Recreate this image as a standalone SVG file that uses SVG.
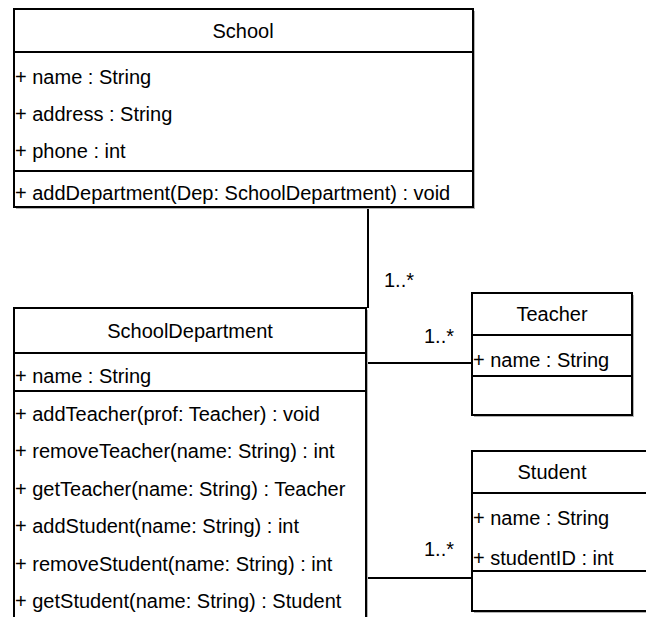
<svg xmlns="http://www.w3.org/2000/svg" width="646" height="617" viewBox="0 0 646 617">
<style>
text{font-family:"Liberation Sans",Arial,Helvetica,sans-serif;font-size:20px;fill:#000}
.c{text-anchor:middle}
.box{fill:#fff;stroke:#000;stroke-width:2}
.sh{fill:#b3b3b3;stroke:none}
.ln{stroke:#000;stroke-width:2;fill:none}
</style>
<rect width="646" height="617" fill="#fff"/>
<g id="connectors">
<path class="ln" d="M368,207 V308"/>
<path class="ln" d="M366,363 H472"/>
<path class="ln" d="M366,578 H472"/>
<text x="384" y="287">1..*</text>
<text x="424" y="343">1..*</text>
<text x="424" y="556">1..*</text>
</g>
<g id="School">
<rect class="sh" x="16" y="11" width="459" height="198"/>
<rect class="box" x="14" y="9" width="459" height="198"/>
<path class="ln" d="M14,52 H473 M14,171 H473"/>
<text class="c" x="243" y="38">School</text>
<text x="15" y="84">+ name : String</text>
<text x="15" y="121">+ address : String</text>
<text x="15" y="158">+ phone : int</text>
<text x="15" y="200">+ addDepartment(Dep: SchoolDepartment) : void</text>
</g>
<g id="SchoolDepartment">
<rect class="sh" x="16" y="310" width="352" height="400"/>
<rect class="box" x="14" y="308" width="352" height="400"/>
<path class="ln" d="M14,353 H366 M14,391 H366"/>
<text class="c" x="190" y="338">SchoolDepartment</text>
<text x="15" y="383">+ name : String</text>
<text x="15" y="421">+ addTeacher(prof: Teacher) : void</text>
<text x="15" y="458">+ removeTeacher(name: String) : int</text>
<text x="15" y="496">+ getTeacher(name: String) : Teacher</text>
<text x="15" y="533">+ addStudent(name: String) : int</text>
<text x="15" y="571">+ removeStudent(name: String) : int</text>
<text x="15" y="608">+ getStudent(name: String) : Student</text>
</g>
<g id="Teacher">
<rect class="sh" x="474" y="295" width="160" height="122"/>
<rect class="box" x="472" y="293" width="160" height="122"/>
<path class="ln" d="M472,335 H632 M472,376 H632"/>
<text class="c" x="552" y="321">Teacher</text>
<text x="473" y="367">+ name : String</text>
</g>
<g id="Student">
<rect class="sh" x="474" y="453" width="200" height="160"/>
<rect class="box" x="472" y="451" width="200" height="160"/>
<path class="ln" d="M472,493 H672 M472,571 H672"/>
<text class="c" x="552" y="479">Student</text>
<text x="473" y="525">+ name : String</text>
<text x="473" y="565">+ studentID : int</text>
</g>
</svg>
